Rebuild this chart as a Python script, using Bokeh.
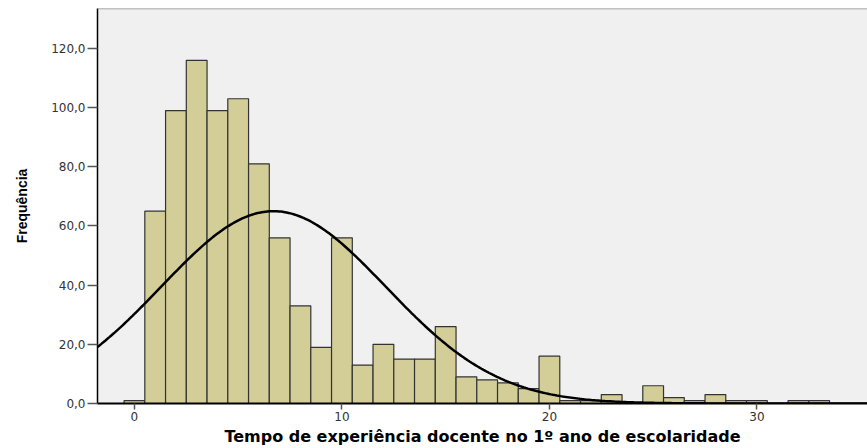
import numpy as np
from bokeh.plotting import figure
from bokeh.models import FixedTicker, Range1d, Span
from bokeh.embed import file_html
from bokeh.resources import INLINE

# Histogram data: years of teaching experience (bin centres) and frequencies
years = list(range(0, 34))
freq = [1, 65, 99, 116, 99, 103, 81, 56, 33, 19,
        56, 13, 20, 15, 15, 26, 9, 8, 7, 5,
        16, 1, 1, 3, 0, 6, 2, 1, 3, 1,
        1, 0, 1, 1]

# Normal curve parameters (as drawn by the statistics package)
curve_mean = 6.7
curve_sd = 5.42
curve_n = sum(freq)

y_ticks = [0, 20, 40, 60, 80, 100, 120]
y_tick_labels = ["0,0", "20,0", "40,0", "60,0", "80,0", "100,0", "120,0"]
x_ticks = [0, 10, 20, 30]

x_start, x_end = -1.78, 35.33
y_start, y_end = 0, 133.5

p = figure(width=867, height=448, output_backend="svg", toolbar_location=None,
           x_range=Range1d(x_start, x_end), y_range=Range1d(y_start, y_end),
           min_border_left=97, min_border_right=0, min_border_top=8, min_border_bottom=44)

p.background_fill_color = "#f0f0f0"
p.border_fill_color = "white"
p.outline_line_color = None
p.xgrid.visible = False
p.ygrid.visible = False

p.vbar(x=years, top=freq, width=1.0, bottom=0,
       fill_color="#d3ce98", line_color="#333333", line_width=1.2)

xs = np.linspace(x_start, x_end, 400)
ys = curve_n * np.exp(-0.5 * ((xs - curve_mean) / curve_sd) ** 2) / (curve_sd * np.sqrt(2 * np.pi))
p.line(xs, ys, line_color="black", line_width=2.5)

p.add_layout(Span(location=y_end, dimension="width", line_color="#8c8c8c", line_width=1.5))

# Y axis
p.yaxis.ticker = FixedTicker(ticks=y_ticks)
p.yaxis.major_label_overrides = {t: l for t, l in zip(y_ticks, y_tick_labels)}
p.yaxis.major_tick_out = 10
p.yaxis.major_tick_in = 0
p.yaxis.minor_tick_out = 0
p.yaxis.minor_tick_in = 0
p.yaxis.major_label_standoff = 2
p.yaxis.major_label_text_font = "DejaVu Sans"
p.yaxis.major_label_text_font_size = "12px"
p.yaxis.major_label_text_color = "#333333"
p.yaxis.axis_line_color = "black"
p.yaxis.axis_line_width = 1.5
p.yaxis.major_tick_line_color = "#555555"
p.yaxis.major_tick_line_width = 1.5
p.yaxis.axis_label = "Frequência"
p.yaxis.axis_label_text_font = "Liberation Sans Narrow, Liberation Sans"
p.yaxis.axis_label_text_font_style = "bold"
p.yaxis.axis_label_text_font_size = "14px"
p.yaxis.axis_label_text_color = "black"
p.yaxis.axis_label_standoff = 18

# X axis
p.xaxis.ticker = FixedTicker(ticks=x_ticks)
p.xaxis.major_tick_out = 6
p.xaxis.major_tick_in = 0
p.xaxis.minor_tick_out = 0
p.xaxis.minor_tick_in = 0
p.xaxis.major_label_standoff = 2
p.xaxis.major_label_text_font = "DejaVu Sans"
p.xaxis.major_label_text_font_size = "12px"
p.xaxis.major_label_text_color = "#333333"
p.xaxis.axis_line_color = "black"
p.xaxis.axis_line_width = 2
p.xaxis.major_tick_line_color = "#555555"
p.xaxis.major_tick_line_width = 1.5
p.xaxis.axis_label = "Tempo de experiência docente no 1º ano de escolaridade"
p.xaxis.axis_label_text_font = "DejaVu Sans"
p.xaxis.axis_label_text_font_style = "bold"
p.xaxis.axis_label_text_font_size = "16px"
p.xaxis.axis_label_text_color = "black"
p.xaxis.axis_label_standoff = 3

open("out.html", "w").write(file_html(p, INLINE))
